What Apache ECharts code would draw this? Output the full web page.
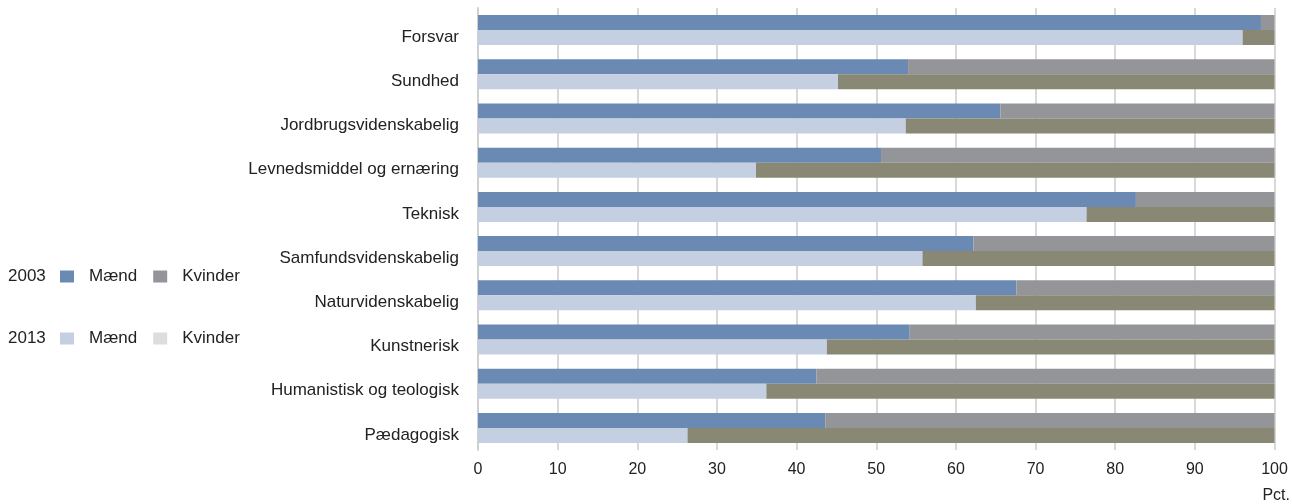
<!DOCTYPE html>
<html>
<head>
<meta charset="utf-8">
<script src="https://cdn.jsdelivr.net/npm/echarts@6/dist/echarts.min.js"></script>
<style>
html,body{margin:0;padding:0;background:#fff;}
#c{width:1292px;height:504px;}
</style>
</head>
<body>
<div id="c"></div>
<script>
const categories = ['Forsvar','Sundhed','Jordbrugsvidenskabelig','Levnedsmiddel og ernæring','Teknisk','Samfundsvidenskabelig','Naturvidenskabelig','Kunstnerisk','Humanistisk og teologisk','Pædagogisk'];
const maend2003   = [98.3, 54.0, 65.6, 50.6, 82.6, 62.2, 67.6, 54.2, 42.5, 43.6];
const kvinder2003 = [1.7, 46.0, 34.4, 49.4, 17.4, 37.8, 32.4, 45.8, 57.5, 56.4];
const maend2013   = [96.0, 45.2, 53.7, 34.9, 76.4, 55.8, 62.5, 43.8, 36.2, 26.3];
const kvinder2013 = [4.0, 54.8, 46.3, 65.1, 23.6, 44.2, 37.5, 56.2, 63.8, 73.7];
const xTicks = {min: 0, max: 100, interval: 10};

const FONT = '"Liberation Sans", Arial, sans-serif';
const C = {m03:'#6a8ab4', k03:'#949599', m13:'#c5cfe2', k13:'#888875', k13legend:'#dcdddf'};

const chart = echarts.init(document.getElementById('c'));
const barBase = {type:'bar', barWidth:15, barGap:'0%', barCategoryGap:'0%'};
const legendBase = {
  left: 60, padding: 0, itemWidth: 14, itemHeight: 12, itemGap: 16, orient: 'horizontal',
  icon: 'rect', selectedMode: false,
  formatter: n => n.split(' ')[1],
  textStyle: {fontFamily: FONT, fontSize: 17, color: '#222', padding: [0,0,0,10]}
};
chart.setOption({
  animation: false,
  grid: {left: 478, right: 17.5, top: 7.9, bottom: 53.9, containLabel: false},
  xAxis: {
    type: 'value', min: xTicks.min, max: xTicks.max, interval: xTicks.interval,
    axisLine: {show: false}, axisTick: {show: false},
    splitLine: {show: true, lineStyle: {color: '#d9d9d9', width: 2}},
    axisLabel: {fontFamily: FONT, fontSize: 16, color: '#222', margin: 11}
  },
  yAxis: {
    type: 'category', data: categories, inverse: true,
    axisLine: {show: true, lineStyle: {color: '#d0d0d0', width: 2}},
    axisTick: {show: false},
    axisLabel: {fontFamily: FONT, fontSize: 17, color: '#222', margin: 19, verticalAlign: 'top', lineHeight: 14}
  },
  legend: [
    Object.assign({}, legendBase, {top: 268, data: ['2003 Mænd','2003 Kvinder']}),
    Object.assign({}, legendBase, {top: 330, data: ['2013 Mænd', {name:'2013 Kvinder', itemStyle:{color: C.k13legend}}]})
  ],
  graphic: [
    {type:'text', left: 8, top: 268, style:{text:'2003', fontFamily: FONT, fontSize: 17, fill:'#222'}},
    {type:'text', left: 8, top: 330, style:{text:'2013', fontFamily: FONT, fontSize: 17, fill:'#222'}},
    {type:'text', right: 2, top: 488, style:{text:'Pct.', fontFamily: FONT, fontSize: 16, fill:'#222'}}
  ],
  series: [
    Object.assign({}, barBase, {name:'2003 Mænd', stack:'y2003', data: maend2003, itemStyle:{color:C.m03}}),
    Object.assign({}, barBase, {name:'2003 Kvinder', stack:'y2003', data: kvinder2003, itemStyle:{color:C.k03}}),
    Object.assign({}, barBase, {name:'2013 Mænd', stack:'y2013', data: maend2013, itemStyle:{color:C.m13}}),
    Object.assign({}, barBase, {name:'2013 Kvinder', stack:'y2013', data: kvinder2013, itemStyle:{color:C.k13}})
  ]
});
</script>
</body>
</html>
